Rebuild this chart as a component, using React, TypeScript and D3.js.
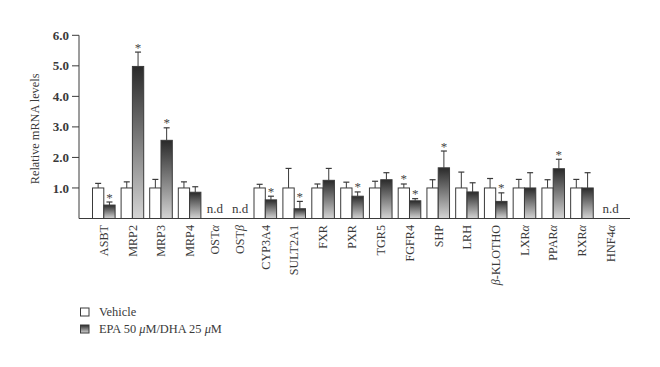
import React from "react";
import * as d3 from "d3";

// genes on the x axis (greek part kept apart so it can be set in italics)
const categories = [
  ["ASBT", ""], ["MRP2", ""], ["MRP3", ""], ["MRP4", ""], ["OST", "α"], ["OST", "β"],
  ["CYP3A4", ""], ["SULT2A1", ""], ["FXR", ""], ["PXR", ""], ["TGR5", ""], ["FGFR4", ""],
  ["SHP", ""], ["LRH", ""], ["β", "-KLOTHO"], ["LXR", "α"], ["PPAR", "α"], ["RXR", "α"], ["HNF4", "α"],
];

const vehicle = [1, 1, 1, 1, null, null, 1, 1, 1, 1, 1, 1, 1, 1, 1, 1, 1, 1, null];
const vehicleErr = [1.15, 1.2, 1.28, 1.2, null, null, 1.12, 1.64, 1.13, 1.19, 1.22, 1.13, 1.27, 1.52, 1.31, 1.28, 1.27, 1.28, null];
const epa = [0.44, 4.98, 2.56, 0.86, null, null, 0.61, 0.32, 1.25, 0.73, 1.27, 0.58, 1.66, 0.87, 0.56, 1.0, 1.63, 1.0, null];
const epaErr = [0.54, 5.45, 2.97, 1.04, null, null, 0.73, 0.56, 1.64, 0.87, 1.5, 0.65, 2.21, 1.17, 0.84, 1.5, 1.94, 1.5, null];
const vehicleStar = [false, false, false, false, false, false, false, false, false, false, false, true, false, false, false, false, false, false, false];
const epaStar = [true, true, true, false, false, false, true, true, false, true, false, true, true, false, true, false, true, false, false];
const yTicks = [1, 2, 3, 4, 5, 6];
const legendItems = ["Vehicle", "EPA 50 μM/DHA 25 μM"];

const FONT = "'Liberation Serif', 'DejaVu Serif', serif";
const INK = "#3a3a3a";

export default function App() {
  // groups are not evenly spaced in the figure (n.d columns are tighter)
  const x = d3.scaleLinear().domain([0, 3, 6, 9, 18]).range([103.8, 189.6, 265.3, 352, 610.7]);
  const y = d3.scaleLinear().domain([0, 6]).range([218.5, 35.3]);
  const bw = 11.3;
  const axisX = 79;
  const base = y(0);

  const bar = (cx: number, v: number, e: number, star: boolean, fill: string, key: string) => (
    <g key={key}>
      <line x1={cx + bw / 2} x2={cx + bw / 2} y1={y(v)} y2={y(e)} stroke={INK} strokeWidth={1} />
      <line x1={cx + bw / 2 - 3} x2={cx + bw / 2 + 3} y1={y(e)} y2={y(e)} stroke={INK} strokeWidth={1.2} />
      <rect x={cx} y={y(v)} width={bw} height={base - y(v)} fill={fill} stroke={INK} strokeWidth={1} />
      {star && (
        <text x={cx + bw / 2} y={y(e) - 0.5} textAnchor="middle" fontSize={13} fill="#444" fontFamily={FONT} style={{ opacity: 0.99 }}>*</text>
      )}
    </g>
  );

  return (
    <svg width={660} height={367} style={{ position: "absolute", left: 0, top: 0, background: "#fff" }}>
      <defs>
        <linearGradient id="epaGrad" x1="0" y1="0" x2="0" y2="1">
          <stop offset="0%" stopColor="#2a2a2a" />
          <stop offset="100%" stopColor="#d4d4d4" />
        </linearGradient>
      </defs>

      {/* y axis */}
      <line x1={axisX} x2={axisX} y1={y(6)} y2={base} stroke={INK} strokeWidth={1} />
      {yTicks.map((t) => (
        <g key={t}>
          <line x1={axisX - 7} x2={axisX} y1={y(t)} y2={y(t)} stroke={INK} strokeWidth={1} />
          <text x={axisX - 10} y={y(t)} dy="0.35em" textAnchor="end" fontSize={13} fontWeight="bold" fill={INK} fontFamily={FONT}>
            {d3.format(".1f")(t)}
          </text>
        </g>
      ))}
      <text transform={`translate(39,${(y(6) + base) / 2 + 2}) rotate(-90)`} textAnchor="middle" fontSize={12.3} fill={INK} fontFamily={FONT}>
        Relative mRNA levels
      </text>

      {/* bars */}
      {categories.map((c, i) => {
        const cx = x(i);
        if (vehicle[i] == null) {
          return (
            <text key={i} x={cx} y={base - 5.5} textAnchor="middle" fontSize={13} fill={INK} fontFamily={FONT}>n.d</text>
          );
        }
        return (
          <g key={i}>
            {bar(cx - bw, vehicle[i] as number, vehicleErr[i] as number, vehicleStar[i], "#fff", "v")}
            {bar(cx, epa[i] as number, epaErr[i] as number, epaStar[i], "url(#epaGrad)", "e")}
          </g>
        );
      })}

      {/* x axis */}
      <line x1={axisX} x2={630} y1={base} y2={base} stroke={INK} strokeWidth={1.2} />
      {categories.map((c, i) => {
        const greekFirst = c[0] === "β";
        return (
          <text key={i} transform={`translate(${x(i)},${base + 6.5}) rotate(-90)`} dy="0.35em" textAnchor="end" fontSize={12.2} fill={INK} fontFamily={FONT}>
            {greekFirst ? (
              <>
                <tspan fontStyle="italic">{c[0]}</tspan>
                {c[1]}
              </>
            ) : (
              <>
                {c[0]}
                <tspan fontStyle="italic">{c[1]}</tspan>
              </>
            )}
          </text>
        );
      })}

      {/* legend */}
      {legendItems.map((l, i) => {
        const ly = 312 + i * 17;
        const parts = l.split("μ");
        return (
          <g key={l}>
            <rect x={80.5} y={ly - 4} width={8.5} height={8} fill={i === 0 ? "#fff" : "url(#epaGrad)"} stroke={INK} strokeWidth={1} />
            <text x={99} y={ly} dy="0.35em" fontSize={12.4} fill={INK} fontFamily={FONT}>
              {parts.map((p, j) => (
                <React.Fragment key={j}>
                  {j > 0 && <tspan fontStyle="italic">μ</tspan>}
                  {p}
                </React.Fragment>
              ))}
            </text>
          </g>
        );
      })}
    </svg>
  );
}
